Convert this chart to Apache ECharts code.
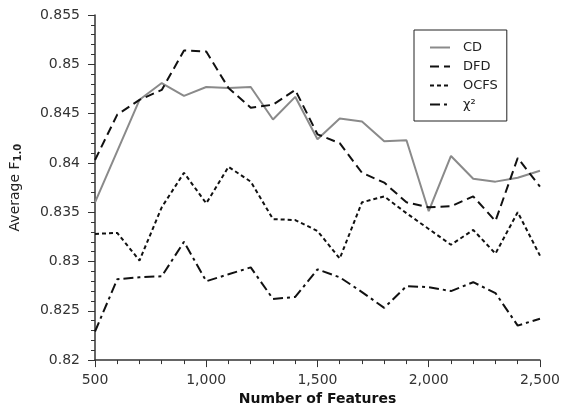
<!DOCTYPE html>
<html>
<head>
<meta charset="utf-8">
<script src="https://cdn.jsdelivr.net/npm/echarts@6/dist/echarts.min.js"></script>
<style>
  html, body { margin: 0; padding: 0; background: #fff; }
  #chart { width: 563px; height: 411px; }
</style>
</head>
<body>
<div id="chart"></div>
<script>
const featureCounts = [500, 600, 700, 800, 900, 1000, 1100, 1200, 1300, 1400, 1500,
  1600, 1700, 1800, 1900, 2000, 2100, 2200, 2300, 2400, 2500]

const cdValues = [0.8360, 0.8412, 0.8464, 0.8481, 0.8468, 0.8477, 0.8476, 0.8477, 0.8444, 0.8467, 0.8424,
  0.8445, 0.8442, 0.8422, 0.8423, 0.8351, 0.8407, 0.8384, 0.8381, 0.8385, 0.8392]
const dfdValues = [0.8403, 0.8449, 0.8464, 0.8474, 0.8514, 0.8513, 0.8476, 0.8456, 0.8459, 0.8474, 0.8429,
  0.8420, 0.8390, 0.8380, 0.8360, 0.8355, 0.8356, 0.8366, 0.8341, 0.8405, 0.8376]
const ocfsValues = [0.8328, 0.8329, 0.8301, 0.8355, 0.8390, 0.8359, 0.8396, 0.8381, 0.8343, 0.8342, 0.8331,
  0.8303, 0.8360, 0.8366, 0.8349, 0.8333, 0.8317, 0.8332, 0.8308, 0.8350, 0.8306]
const chiValues = [0.8229, 0.8282, 0.8284, 0.8285, 0.8320, 0.8280, 0.8287, 0.8294, 0.8262, 0.8264, 0.8292,
  0.8284, 0.8269, 0.8253, 0.8275, 0.8274, 0.8270, 0.8279, 0.8268, 0.8235, 0.8242]

const xTicks = [500, 1000, 1500, 2000, 2500]
const yTicks = [0.82, 0.825, 0.83, 0.835, 0.84, 0.845, 0.85, 0.855]

const pairs = (ys) => featureCounts.map((x, i) => [x, ys[i]])

const chart = echarts.init(document.getElementById('chart'))

const axisColor = '#333'
const font = 'DejaVu Sans'

const lineSeries = (name, data, color, type) => ({
  name,
  type: 'line',
  data: pairs(data),
  symbol: 'none',
  animation: false,
  lineStyle: { color, width: 2, type, cap: 'butt' },
  itemStyle: { color }
})

chart.setOption({
  backgroundColor: '#fff',
  grid: { left: 88, right: 22, top: 15, bottom: 50 },
  legend: {
    orient: 'vertical',
    left: 414,
    top: 30,
    padding: [11, 9, 10, 15],
    itemWidth: 20,
    itemHeight: 14,
    itemGap: 6,
    borderColor: '#222',
    borderWidth: 1,
    itemStyle: { opacity: 0 },
    textStyle: { fontFamily: font, fontSize: 13, color: '#222', padding: [0, 0, 0, 8] },
    data: ['CD', 'DFD', 'OCFS', 'χ²']
  },
  xAxis: {
    type: 'value',
    min: xTicks[0],
    max: xTicks[xTicks.length - 1],
    interval: 500,
    name: 'Number of Features',
    nameLocation: 'middle',
    nameGap: 30,
    nameTextStyle: { fontFamily: font, fontSize: 14, fontWeight: 'bold', color: '#111' },
    axisLine: { lineStyle: { color: axisColor, width: 1.5 } },
    axisTick: { show: true, length: 7, lineStyle: { color: axisColor } },
    minorTick: { show: true, splitNumber: 5, length: 4, lineStyle: { color: axisColor } },
    splitLine: { show: false },
    axisLabel: {
      fontFamily: font, fontSize: 14, color: '#333', margin: 13,
      formatter: (v) => v.toLocaleString('en-US')
    }
  },
  yAxis: {
    type: 'value',
    min: yTicks[0],
    max: yTicks[yTicks.length - 1],
    interval: 0.005,
    name: '{a|Average F}{s|1.0}',
    nameLocation: 'middle',
    nameGap: 72,
    nameTextStyle: {
      rich: {
        a: { fontFamily: font, fontSize: 14, color: '#222', fontWeight: 500 },
        s: { fontFamily: font, fontSize: 10, color: '#222', fontWeight: 'bold', verticalAlign: 'bottom', padding: [6, 0, 0, 0] }
      }
    },
    axisLine: { show: true, lineStyle: { color: axisColor, width: 1.5 } },
    axisTick: { show: true, length: 7, lineStyle: { color: axisColor } },
    minorTick: { show: true, splitNumber: 5, length: 4, lineStyle: { color: axisColor } },
    splitLine: { show: false },
    axisLabel: {
      fontFamily: font, fontSize: 14, color: '#333', margin: 15,
      formatter: (v) => String(parseFloat(v.toFixed(3)))
    }
  },
  series: [
    lineSeries('CD', cdValues, '#8a8a8a', 'solid'),
    lineSeries('DFD', dfdValues, '#111', [9, 5]),
    lineSeries('OCFS', ocfsValues, '#111', [4, 3]),
    lineSeries('χ²', chiValues, '#111', [10, 4, 3, 4])
  ]
})
</script>
</body>
</html>
